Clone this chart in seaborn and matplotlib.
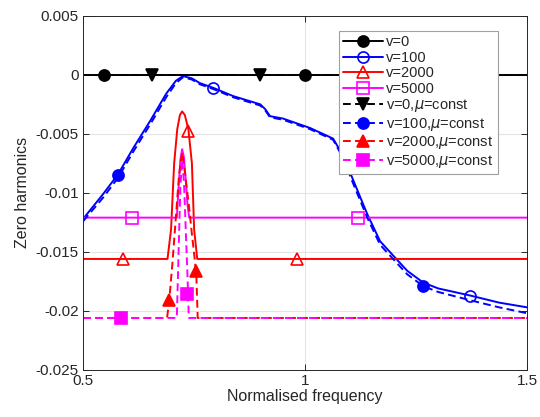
import matplotlib
matplotlib.use("Agg")
import matplotlib.pyplot as plt
import seaborn as sns
import numpy as np
from matplotlib.lines import Line2D

# ---------------- data ----------------
x_v0 = [0.5, 1.5]
y_v0 = [0.0, 0.0]
mx_v0 = [0.547, 1.0]
my_v0 = [0.0, 0.0]
mx_v0c = [0.655, 0.899]
my_v0c = [0.0, 0.0]

x_v100 = [0.5, 0.545, 0.579, 0.613, 0.651, 0.687, 0.709, 0.725, 0.745, 0.763, 0.793, 0.838,
          0.899, 0.91, 0.921, 0.95, 1.011, 1.063, 1.085, 1.106, 1.14, 1.169, 1.203, 1.23,
          1.266, 1.30, 1.372, 1.437, 1.5]
y_v100 = [-0.0122, -0.0101, -0.0084, -0.0062, -0.0039, -0.0016, -0.0005, -0.0001, -0.0003,
          -0.0007, -0.0011, -0.0018, -0.0025, -0.0029, -0.0035, -0.0037, -0.0045, -0.0054,
          -0.0068, -0.0087, -0.0118, -0.0141, -0.0155, -0.0166, -0.0176, -0.0181, -0.0187,
          -0.0193, -0.0197]
y_v100c = [-0.0124, -0.0104, -0.0087, -0.0065, -0.0042, -0.0019, -0.0007, -0.0002, -0.0004,
           -0.0008, -0.0012, -0.0019, -0.0026, -0.0030, -0.0036, -0.0038, -0.0046, -0.0055,
           -0.0070, -0.0090, -0.0121, -0.0144, -0.0158, -0.0169, -0.0179, -0.0184, -0.0191,
           -0.0197, -0.0202]
mx_v100 = [0.793, 1.372]
my_v100 = [-0.0011, -0.0187]
mx_v100c = [0.579, 1.266]
my_v100c = [-0.0085, -0.0179]

x_v2000 = [0.5, 0.690, 0.698, 0.705, 0.712, 0.718, 0.723, 0.729, 0.737, 0.745, 0.750, 0.757, 1.5]
y_v2000 = [-0.0156, -0.0156, -0.0131, -0.0075, -0.0046, -0.0034, -0.0031, -0.0034, -0.0046,
           -0.0075, -0.0131, -0.0156, -0.0156]
mx_v2000 = [0.590, 0.736, 0.982]
my_v2000 = [-0.0156, -0.0048, -0.0156]

x_v2000c = [0.5, 0.689, 0.694, 0.701, 0.708, 0.716, 0.723, 0.730, 0.738, 0.745, 0.751, 0.755,
            0.758, 1.5]
y_v2000c = [-0.0206, -0.0206, -0.0191, -0.0160, -0.0125, -0.0085, -0.0066, -0.0085, -0.0110,
            -0.0135, -0.0155, -0.0170, -0.0206, -0.0206]
mx_v2000c = [0.694, 0.754]
my_v2000c = [-0.0191, -0.0166]

x_v5000 = [0.5, 0.711, 0.715, 0.719, 0.723, 0.727, 0.731, 0.735, 0.739, 1.5]
y_v5000 = [-0.0121, -0.0121, -0.0095, -0.0072, -0.0063, -0.0070, -0.0088, -0.0110, -0.0121, -0.0121]
mx_v5000 = [0.610, 1.119]
my_v5000 = [-0.0121, -0.0121]

x_v5000c = [0.5, 0.711, 0.715, 0.719, 0.723, 0.727, 0.731, 0.735, 0.738, 1.5]
y_v5000c = [-0.0206, -0.0206, -0.0150, -0.0095, -0.0072, -0.0090, -0.0130, -0.0170, -0.0206, -0.0206]
mx_v5000c = [0.586, 0.734]
my_v5000c = [-0.0206, -0.0186]

labels = ["v=0", "v=100", "v=2000", "v=5000",
          r"v=0,$\mu$=const", r"v=100,$\mu$=const", r"v=2000,$\mu$=const", r"v=5000,$\mu$=const"]
xticks = [0.5, 1.0, 1.5]
xticklabels = ["0.5", "1", "1.5"]
yticks = [0.005, 0.0, -0.005, -0.01, -0.015, -0.02, -0.025]
yticklabels = ["0.005", "0", "-0.005", "-0.01", "-0.015", "-0.02", "-0.025"]

# ---------------- style ----------------
sns.set_theme(style="whitegrid", color_codes=False)
plt.rcParams['font.family'] = ['Liberation Sans', 'DejaVu Sans']
plt.rcParams['mathtext.fontset'] = 'dejavusans'

BLACK = '#000000'
BLUE = '#0000ff'
RED = '#ff0000'
MAG = '#ff00ff'

fig = plt.figure(figsize=(5.4, 4.17), dpi=100)
ax = fig.add_axes([0.154, 0.113, 0.822, 0.849])
ax.set_facecolor('white')

LW = 1.4
DASH = (4.0, 2.2)

series = [
    (x_v0, y_v0, BLACK, '-', mx_v0, my_v0, 'o', True),
    (x_v100, y_v100, BLUE, '-', mx_v100, my_v100, 'o', False),
    (x_v2000, y_v2000, RED, '-', mx_v2000, my_v2000, '^', False),
    (x_v5000, y_v5000, MAG, '-', mx_v5000, my_v5000, 's', False),
    (x_v0, y_v0, BLACK, '--', mx_v0c, my_v0c, 'v', True),
    (x_v100, y_v100c, BLUE, '--', mx_v100c, my_v100c, 'o', True),
    (x_v2000c, y_v2000c, RED, '--', mx_v2000c, my_v2000c, '^', True),
    (x_v5000c, y_v5000c, MAG, '--', mx_v5000c, my_v5000c, 's', True),
]

handles = []
for (xs, ys, c, ls, mxs, mys, mk, filled), lab in zip(series, labels):
    kw = dict(color=c, linewidth=LW)
    if ls == '--':
        kw['dashes'] = DASH
    sns.lineplot(x=xs, y=ys, ax=ax, sort=False, estimator=None, legend=False, **kw)
    ms = 8 if mk in ('o', 's') else 8.5
    ax.plot(mxs, mys, linestyle='none', marker=mk, markersize=ms,
            markerfacecolor=(c if filled else 'none'), markeredgecolor=c,
            markeredgewidth=1.2, zorder=3)
    h = Line2D([0], [0], color=c, linewidth=LW, linestyle=ls, marker=mk, markersize=ms,
               markerfacecolor=(c if filled else 'none'), markeredgecolor=c, markeredgewidth=1.2)
    if ls == '--':
        h.set_dashes(DASH)
    handles.append(h)

ax.set_xlim(0.5, 1.5)
ax.set_ylim(-0.025, 0.005)
ax.set_xticks(xticks)
ax.set_xticklabels(xticklabels, fontsize=11)
ax.set_yticks(yticks)
ax.set_yticklabels(yticklabels, fontsize=11)
ax.set_xlabel("Normalised frequency", fontsize=11.5, labelpad=1)
ax.set_ylabel("Zero harmonics", fontsize=11.5, labelpad=4)

ax.grid(True, color='#e3e3e3', linewidth=0.8)
for s in ax.spines.values():
    s.set_visible(True)
    s.set_color('#262626')
    s.set_linewidth(0.7)
ax.tick_params(direction='in', length=4, width=0.7, color='#262626',
               top=True, right=True, bottom=True, left=True, pad=3, labelcolor='#262626')

leg = ax.legend(handles, labels, loc='upper right', bbox_to_anchor=(0.934, 0.957),
                fontsize=10.5, handlelength=2.7, handletextpad=0.25, labelspacing=0.1,
                borderpad=0.3, borderaxespad=0.0, frameon=True, fancybox=False,
                framealpha=1.0, edgecolor='#a0a0a0')
leg.get_frame().set_linewidth(0.8)
leg.set_zorder(5)

fig.savefig("out.png", dpi=100)
